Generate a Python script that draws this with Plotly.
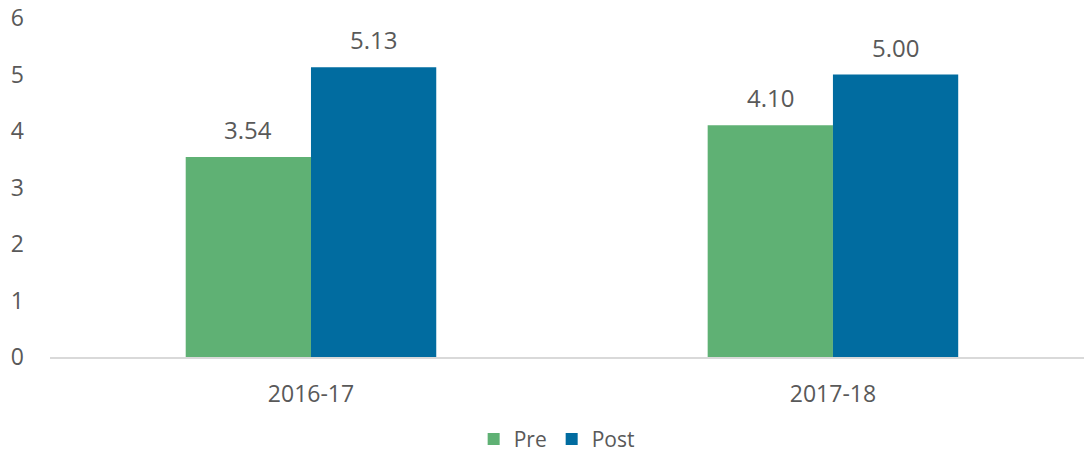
import plotly.graph_objects as go

categories = ["2016-17", "2017-18"]
pre_values = [3.54, 4.10]
post_values = [5.13, 5.00]
series_names = ["Pre", "Post"]
y_ticks = [0, 1, 2, 3, 4, 5, 6]

GREEN = "#5fb174"
BLUE = "#016ca0"
TEXT = "#595959"
FONT = "Open Sans"

fig = go.Figure()
fig.add_trace(go.Bar(x=categories, y=pre_values, name=series_names[0],
                     marker=dict(color=GREEN, line=dict(width=0))))
fig.add_trace(go.Bar(x=categories, y=post_values, name=series_names[1],
                     marker=dict(color=BLUE, line=dict(width=0))))

for vals, shift in ((pre_values, -62.5), (post_values, 62.5)):
    for c, v in zip(categories, vals):
        fig.add_annotation(x=c, y=v, xref="x", yref="y", text=f"{v:.2f}",
                           showarrow=False, yanchor="bottom", xshift=shift,
                           yshift=9, font=dict(family=FONT, size=24, color=TEXT))

fig.update_layout(
    width=1084, height=462,
    margin=dict(l=50, r=0, t=18, b=105),
    paper_bgcolor="white", plot_bgcolor="white",
    barmode="group", bargap=0.52, bargroupgap=0,
    font=dict(family=FONT, color=TEXT, size=22),
    legend=dict(orientation="h", x=0.49, xanchor="center", y=-0.243, yanchor="middle",
                font=dict(family=FONT, size=21, color=TEXT), itemwidth=30,
                traceorder="normal"),
    showlegend=True,
)
fig.update_xaxes(range=[-0.5, 1.481], showline=True, linecolor="#d9d9d9", linewidth=2,
                 showgrid=False, ticks="", ticklabelstandoff=15, automargin=False,
                 tickfont=dict(family=FONT, size=23, color=TEXT))
fig.update_yaxes(range=[0, 6], tickvals=y_ticks, showgrid=False, zeroline=False,
                 showline=False, ticks="", ticklabelstandoff=25, automargin=False,
                 tickfont=dict(family=FONT, size=23, color=TEXT))

page_css = ("var s=[document.documentElement, document.body];"
            "s.forEach(function(e){e.style.margin='0';e.style.padding='0';"
            "e.style.overflow='hidden';});")

fig.write_html("out.html", config={"displayModeBar": False}, post_script=page_css)
